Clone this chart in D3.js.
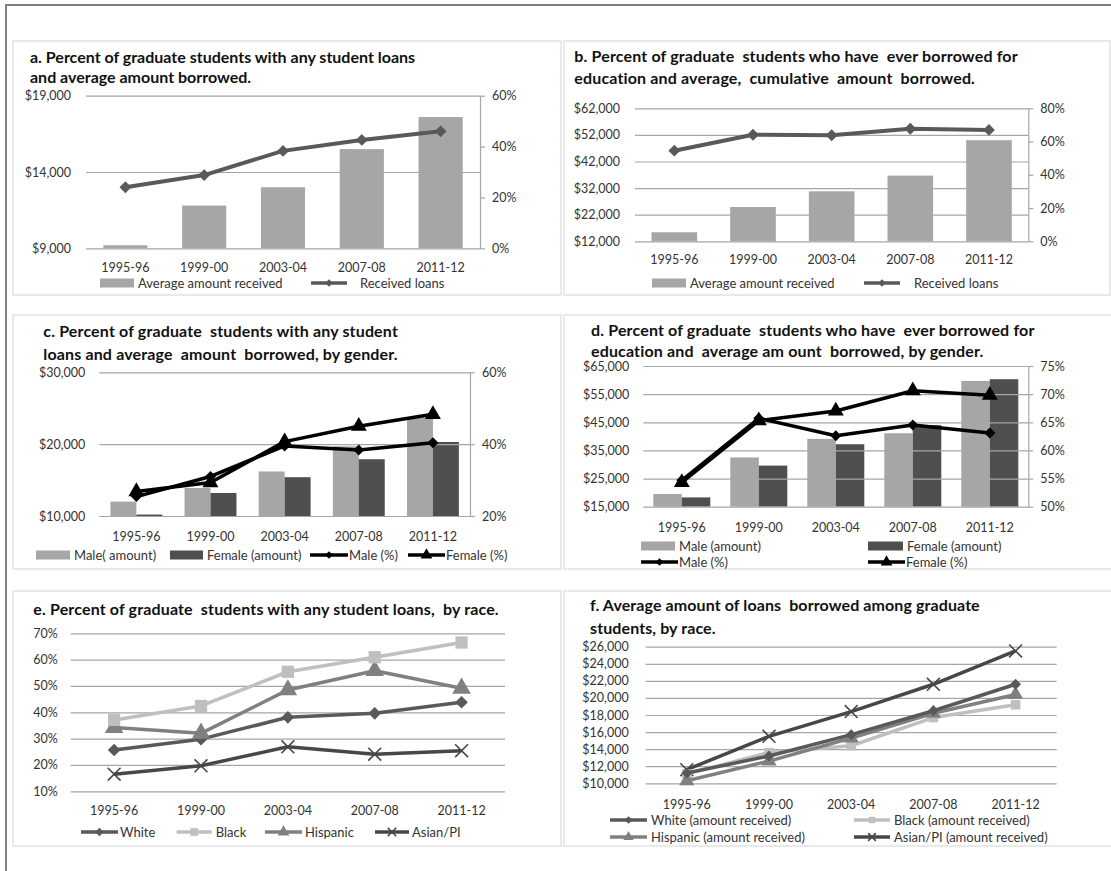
<!DOCTYPE html>
<html>
<head>
<meta charset="utf-8">
<script src="https://cdn.jsdelivr.net/npm/d3@7"></script>
<style>
  body { margin: 0; background: #fff; }
  svg { display: block; font-family: Lato, "Open Sans", sans-serif; }
</style>
</head>
<body>
<svg id="chart" width="1111" height="871"></svg>
<script>
// ---------- data ----------
const years = ["1995-96", "1999-00", "2003-04", "2007-08", "2011-12"];

// a. any student loans, average amount borrowed
const aAmount = [9200, 11800, 13000, 15500, 17600];
const aPercent = [0.24, 0.288, 0.383, 0.426, 0.46];
const aAmountTicks = [9000, 14000, 19000];
const aPercentTicks = [0, 0.2, 0.4, 0.6];

// b. ever borrowed, cumulative amount
const bAmount = [15400, 24900, 30800, 36700, 50000];
const bPercent = [0.545, 0.641, 0.638, 0.677, 0.67];
const bAmountTicks = [12000, 22000, 32000, 42000, 52000, 62000];
const bPercentTicks = [0, 0.2, 0.4, 0.6, 0.8];

// c. any student loans by gender
const cMaleAmount = [12000, 13900, 16200, 19700, 23700];
const cFemaleAmount = [10200, 13200, 15400, 17900, 20300];
const cMalePercent = [0.254, 0.31, 0.395, 0.384, 0.404];
const cFemalePercent = [0.268, 0.293, 0.407, 0.45, 0.483];
const cAmountTicks = [10000, 20000, 30000];
const cPercentTicks = [0.2, 0.4, 0.6];

// d. ever borrowed by gender
const dMaleAmount = [19500, 32500, 39100, 41100, 59700];
const dFemaleAmount = [18300, 29600, 37200, 44000, 60300];
const dMalePercent = [0.547, 0.657, 0.626, 0.645, 0.631];
const dFemalePercent = [0.543, 0.653, 0.670, 0.706, 0.698];
const dAmountTicks = [15000, 25000, 35000, 45000, 55000, 65000];
const dPercentTicks = [0.50, 0.55, 0.60, 0.65, 0.70, 0.75];

// e. any student loans by race
const eWhite = [0.257, 0.298, 0.381, 0.396, 0.438];
const eBlack = [0.371, 0.424, 0.554, 0.609, 0.665];
const eHispanic = [0.342, 0.32, 0.485, 0.558, 0.491];
const eAsian = [0.165, 0.197, 0.269, 0.241, 0.254];
const ePercentTicks = [0.1, 0.2, 0.3, 0.4, 0.5, 0.6, 0.7];

// f. average amount by race
const fWhite = [11200, 13200, 15700, 18500, 21600];
const fBlack = [11100, 13600, 14400, 17700, 19200];
const fHispanic = [10300, 12600, 15300, 18200, 20400];
const fAsian = [11600, 15500, 18400, 21600, 25500];
const fAmountTicks = [10000, 12000, 14000, 16000, 18000, 20000, 22000, 24000, 26000];

// ---------- styles ----------
const C = {
  barLight: "#a6a6a6",
  barDark: "#4f4f4f",
  lineGray: "#595959",
  black: "#000",
  grid: "#a6a6a6",
  frame: "#e2e2e2",
  text: "#333",
  white: "#595959",
  blackRace: "#bfbfbf",
  hispanic: "#808080",
  asian: "#474747"
};
const TITLE_SIZE = 16;
const LABEL_SIZE = 12.5;
const LEGEND_SIZE = 13;

const svg = d3.select("#chart");
const money = d3.format("$,.0f");
const pct = d3.format(".0%");

// page border (top and left)
svg.append("line").attr("x1", 5).attr("x2", 1111).attr("y1", 5).attr("y2", 5)
  .attr("stroke", "#7f7f7f").attr("stroke-width", 2);
svg.append("line").attr("x1", 6).attr("x2", 6).attr("y1", 5).attr("y2", 871)
  .attr("stroke", "#7f7f7f").attr("stroke-width", 2);

// panel frames
[[13, 41, 548, 254], [564, 41, 546, 254], [13, 315, 548, 254],
 [564, 315, 548, 254], [13, 591, 548, 255], [564, 591, 548, 255]]
  .forEach(([x, y, w, h]) => svg.append("rect")
    .attr("x", x).attr("y", y).attr("width", w).attr("height", h)
    .attr("fill", "none").attr("stroke", C.frame).attr("stroke-width", 1.5));

// ---------- helpers ----------
function title(x, baselines, lines, spacing) {
  lines.forEach((t, i) => svg.append("text")
    .attr("x", x).attr("y", baselines[i])
    .attr("font-size", TITLE_SIZE).attr("font-weight", 700).attr("fill", "#111")
    .attr("letter-spacing", spacing || 0)
    .attr("xml:space", "preserve")
    .text(t));
}

function markerPath(type, size) {
  const sym = {
    diamond: d3.symbolSquare, square: d3.symbolSquare,
    triangle: d3.symbolTriangle, x: d3.symbolX
  }[type];
  return d3.symbol(sym, size)();
}

function drawMarkers(g, xs, ys, type, size, color) {
  g.selectAll(null).data(xs.map((x, i) => [x, ys[i]])).join("path")
    .attr("d", markerPath(type, size))
    .attr("transform", d => `translate(${d[0]},${d[1]})` + (type === "diamond" ? " rotate(45)" : ""))
    .attr("fill", type === "x" ? "none" : color)
    .attr("stroke", color)
    .attr("stroke-width", type === "x" ? 1.6 : 0);
}

function series(x, y, values, color, type, size, width) {
  const g = svg.append("g");
  const cx = d => x(d) + x.bandwidth() / 2;
  const pts = years.map((yr, i) => [cx(yr), y(values[i])]);
  g.append("path").datum(pts)
    .attr("d", d3.line())
    .attr("fill", "none").attr("stroke", color)
    .attr("stroke-width", width || 3.5).attr("stroke-linejoin", "round");
  drawMarkers(g, pts.map(p => p[0]), pts.map(p => p[1]), type, size, color);
}

function grid(y, ticks, x0, x1) {
  const g = svg.append("g").attr("transform", `translate(${x0},0)`)
    .call(d3.axisRight(y).tickValues(ticks).tickSize(x1 - x0).tickFormat(""));
  g.select(".domain").remove();
  g.selectAll("line").attr("stroke", C.grid).attr("stroke-width", 1.2);
}

function leftLabels(y, ticks, x0, fmt, pad) {
  const g = svg.append("g").attr("transform", `translate(${x0},0)`)
    .call(d3.axisLeft(y).tickValues(ticks).tickSize(0).tickPadding(pad).tickFormat(fmt));
  g.select(".domain").remove();
  g.selectAll("text").attr("font-size", LABEL_SIZE).attr("fill", C.text).attr("font-family", "Lato, sans-serif");
}

function rightAxis(y, ticks, x1, fmt) {
  const g = svg.append("g").attr("transform", `translate(${x1},0)`)
    .call(d3.axisRight(y).tickValues(ticks).tickSize(5).tickSizeOuter(0).tickPadding(7).tickFormat(fmt));
  g.select(".domain").attr("stroke", C.grid).attr("stroke-width", 1.2);
  g.selectAll("line").attr("stroke", C.grid).attr("stroke-width", 1.2);
  g.selectAll("text").attr("font-size", LABEL_SIZE).attr("fill", C.text).attr("font-family", "Lato, sans-serif");
}

function bottomLabels(x, yc) {
  const g = svg.append("g").attr("transform", `translate(0,${yc})`)
    .call(d3.axisBottom(x).tickSize(0).tickPadding(0));
  g.select(".domain").remove();
  g.selectAll("text").attr("y", 0).attr("dy", "0.35em")
    .attr("font-size", LABEL_SIZE).attr("fill", C.text).attr("font-family", "Lato, sans-serif");
}

function legendBar(x, yc, w, color, label) {
  svg.append("rect").attr("x", x).attr("y", yc - 4.5).attr("width", w).attr("height", 9).attr("fill", color);
  svg.append("text").attr("x", x + w + 4).attr("y", yc).attr("dy", "0.35em")
    .attr("font-size", LEGEND_SIZE).attr("fill", C.text).attr("xml:space", "preserve").text(label);
}

function legendLine(x, yc, w, color, type, size, label, gap) {
  svg.append("line").attr("x1", x).attr("x2", x + w).attr("y1", yc).attr("y2", yc)
    .attr("stroke", color).attr("stroke-width", 3.5);
  drawMarkers(svg.append("g"), [x + w / 2], [yc], type, size, color);
  svg.append("text").attr("x", x + w + (gap == null ? 3 : gap)).attr("y", yc).attr("dy", "0.35em")
    .attr("font-size", LEGEND_SIZE).attr("fill", C.text).attr("xml:space", "preserve").text(label);
}

function bars(x, y, values, color, frac, offset, base) {
  const w = x.bandwidth() * frac;
  svg.append("g").selectAll("rect").data(values).join("rect")
    .attr("x", (d, i) => x(years[i]) + x.bandwidth() / 2 + offset * w)
    .attr("width", w)
    .attr("y", d => y(d))
    .attr("height", d => y(base) - y(d))
    .attr("fill", color);
}

// ---------- panel a ----------
{
  const x = d3.scaleBand().domain(years).range([86, 480]);
  const y = d3.scaleLinear().domain([9000, 19000]).range([248.3, 95.7]);
  const y2 = d3.scaleLinear().domain([0, 0.6]).range([248.3, 95.7]);
  title(30, [63, 83], ["a. Percent of graduate students with any student loans", "and average amount borrowed."]);
  bars(x, y, aAmount, C.barLight, 0.56, -0.5, 9000);
  grid(y, aAmountTicks, 86, 480);
  leftLabels(y, aAmountTicks, 86, money, 15);
  rightAxis(y2, aPercentTicks, 480, pct);
  series(x, y2, aPercent, C.lineGray, "diamond", 70, 4);
  bottomLabels(x, 268);
  legendBar(100, 283, 34, C.barLight, "Average amount received");
  legendLine(311, 283, 36, C.lineGray, "diamond", 30, "Received loans", 13);
}

// ---------- panel b ----------
{
  const x = d3.scaleBand().domain(years).range([635, 1028.3]);
  const y = d3.scaleLinear().domain([12000, 62000]).range([241.3, 108.3]);
  const y2 = d3.scaleLinear().domain([0, 0.8]).range([241.3, 108.3]);
  title(574.3, [62, 84], ["b. Percent of graduate  students who have  ever borrowed for", "education and average,  cumulative  amount  borrowed."], 0.15);
  bars(x, y, bAmount, C.barLight, 0.58, -0.5, 12000);
  grid(y, bAmountTicks, 635, 1028.3);
  leftLabels(y, bAmountTicks, 635, money, 15);
  rightAxis(y2, bPercentTicks, 1028.3, pct);
  series(x, y2, bPercent, C.lineGray, "diamond", 70, 4);
  bottomLabels(x, 260);
  legendBar(652, 283, 34, C.barLight, "Average amount received");
  legendLine(864, 283, 36, C.lineGray, "diamond", 30, "Received loans", 14);
}

// ---------- panel c ----------
{
  const x = d3.scaleBand().domain(years).range([99.3, 470]);
  const y = d3.scaleLinear().domain([10000, 30000]).range([516, 372.3]);
  const y2 = d3.scaleLinear().domain([0.2, 0.6]).range([516, 372.3]);
  title(43.3, [337, 360], ["c. Percent of graduate  students with any student", "loans and average  amount  borrowed, by gender."], 0.15);
  bars(x, y, cMaleAmount, C.barLight, 0.35, -1, 10000);
  bars(x, y, cFemaleAmount, C.barDark, 0.35, 0, 10000);
  grid(y, cAmountTicks, 99.3, 470);
  leftLabels(y, cAmountTicks, 99.3, money, 14);
  rightAxis(y2, cPercentTicks, 470, pct);
  series(x, y2, cMalePercent, C.black, "diamond", 60, 3.5);
  series(x, y2, cFemalePercent, C.black, "triangle", 110, 3.5);
  bottomLabels(x, 537);
  legendBar(36, 555, 34, C.barLight, "Male( amount)");
  legendBar(170, 555, 33, C.barDark, "Female (amount)");
  legendLine(310, 555, 38, C.black, "diamond", 30, "Male (%)", 1);
  legendLine(408, 555, 37, C.black, "triangle", 60, "Female (%)", 1);
}

// ---------- panel d ----------
{
  const x = d3.scaleBand().domain(years).range([643.3, 1028.3]);
  const y = d3.scaleLinear().domain([15000, 65000]).range([506.7, 366]);
  const y2 = d3.scaleLinear().domain([0.5, 0.75]).range([506.7, 366]);
  title(591, [336, 357], ["d. Percent of graduate  students who have  ever borrowed for", "education and  average am ount  borrowed, by gender."], 0.15);
  bars(x, y, dMaleAmount, C.barLight, 0.37, -1, 15000);
  bars(x, y, dFemaleAmount, C.barDark, 0.37, 0, 15000);
  grid(y, dAmountTicks, 643.3, 1028.3);
  leftLabels(y, dAmountTicks, 643.3, money, 14);
  rightAxis(y2, dPercentTicks, 1028.3, pct);
  series(x, y2, dMalePercent, C.black, "diamond", 60, 3.5);
  series(x, y2, dFemalePercent, C.black, "triangle", 110, 3.5);
  bottomLabels(x, 528);
  legendBar(641, 546, 34, C.barLight, "Male (amount)");
  legendBar(868, 546, 35, C.barDark, "Female (amount)");
  legendLine(641, 562, 37, C.black, "diamond", 30, "Male (%)", 1);
  legendLine(868, 562, 37, C.black, "triangle", 60, "Female (%)", 1);
}

// ---------- panel e ----------
{
  const x = d3.scaleBand().domain(years).range([70.7, 505]);
  const y = d3.scaleLinear().domain([0.1, 0.7]).range([791.3, 633.3]);
  title(33.3, [615], ["e. Percent of graduate  students with any student loans,  by race."], 0.15);
  grid(y, ePercentTicks, 70.7, 505);
  leftLabels(y, ePercentTicks, 70.7, pct, 13);
  series(x, y, eAsian, C.asian, "x", 110, 3.5);
  series(x, y, eWhite, C.white, "diamond", 80, 3.5);
  series(x, y, eHispanic, C.hispanic, "triangle", 150, 3.5);
  series(x, y, eBlack, C.blackRace, "square", 150, 3.5);
  bottomLabels(x, 811);
  legendLine(81, 832, 37, C.white, "diamond", 35, "White", 2);
  legendLine(176.7, 832, 35, C.blackRace, "square", 60, "Black", 4);
  legendLine(265, 832, 37, C.hispanic, "triangle", 60, "Hispanic", 3);
  legendLine(375, 832, 34, C.asian, "x", 50, "Asian/PI", 3);
}

// ---------- panel f ----------
{
  const x = d3.scaleBand().domain(years).range([645.7, 1056.7]);
  const y = d3.scaleLinear().domain([10000, 26000]).range([783.3, 646.7]);
  title(590, [611, 634], ["f. Average amount of loans  borrowed among graduate", "students, by race."], 0.1);
  grid(y, fAmountTicks, 645.7, 1056.7);
  leftLabels(y, fAmountTicks, 645.7, money, 17);
  series(x, y, fAsian, C.asian, "x", 110, 3.5);
  series(x, y, fBlack, C.blackRace, "square", 90, 3.5);
  series(x, y, fHispanic, C.hispanic, "triangle", 100, 3.5);
  series(x, y, fWhite, C.white, "diamond", 60, 3.5);
  bottomLabels(x, 805);
  legendLine(610, 820, 37, C.white, "diamond", 30, "White (amount received)", 4);
  legendLine(854, 820, 36, C.blackRace, "square", 40, "Black (amount received)", 4);
  legendLine(610, 837, 37, C.hispanic, "triangle", 45, "Hispanic (amount received)", 4);
  legendLine(854, 837, 36, C.asian, "x", 40, "Asian/PI (amount received)", 4);
}
</script>
</body>
</html>
